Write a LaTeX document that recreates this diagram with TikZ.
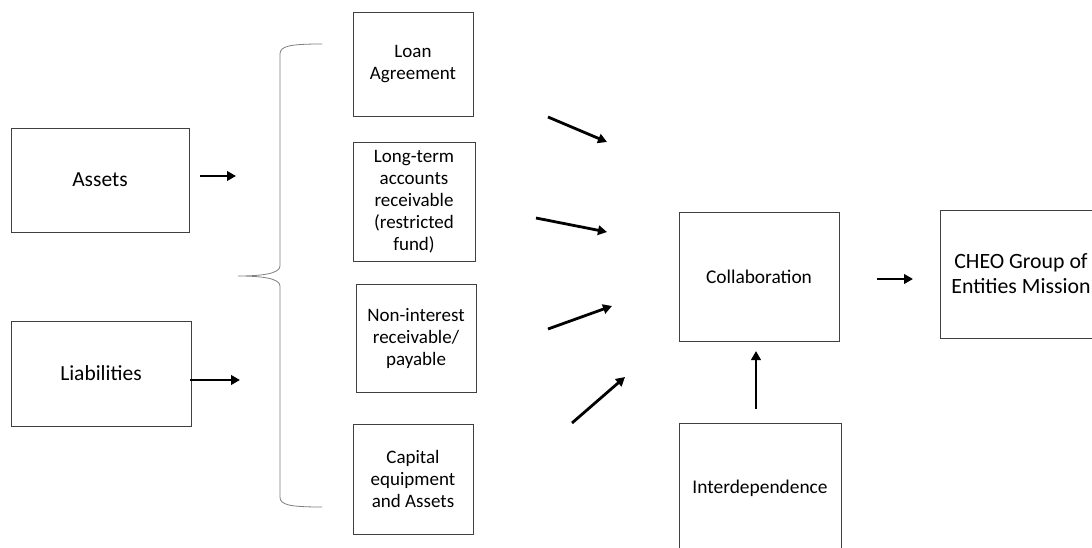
\documentclass[tikz,border=0pt]{standalone}
\usepackage{fontspec}
\setmainfont{Carlito}
\usetikzlibrary{arrows.meta}
\begin{document}
\begin{tikzpicture}[x=1pt,y=-1pt,
  box/.style={draw=black!75,line width=0.9pt,align=center,inner sep=0pt},
  arr/.style={line width=2.8pt,-{Triangle[length=9pt,width=9.5pt]}},
  bf/.style={font=\fontsize{19}{22}\selectfont},
  sf/.style={font=\fontsize{21.5}{25}\selectfont},
  xf/.style={font=\fontsize{19.4}{23}\selectfont}]
\clip (0,0) rectangle (1092,548);
\fill[white] (0,0) rectangle (1092,548);
\node[box,sf,minimum width=178pt,minimum height=104pt] (assets) at (100,180) {Assets};
\node[box,sf,minimum width=180pt,minimum height=105pt] (liab) at (101,373.5) {Liabilities};
\node[box,bf,minimum width=120pt,minimum height=104pt] (loan) at (413,64) {Loan\\Agreement};
\node[box,bf,minimum width=122pt,minimum height=119pt] (long) at (414,201.5) {Long-term\\accounts\\receivable\\(restricted\\fund)};
\node[box,bf,minimum width=120pt,minimum height=108pt] (nonint) at (416,338) {Non-interest\\receivable/\\payable};
\node[box,bf,minimum width=120pt,minimum height=110pt] (capital) at (413,479) {Capital\\equipment\\and Assets};
\node[box,xf,minimum width=160pt,minimum height=129pt] (collab) at (759,276.5) {Collaboration};
\node[box,font=\fontsize{21.8}{25}\selectfont,minimum width=162pt,minimum height=128pt] (cheo) at (1021,274) {CHEO Group of\\Entities Mission};
\node[box,xf,minimum width=162pt,minimum height=130pt] (inter) at (760,488) {Interdependence};
% brace
\draw[black!50,line width=0.8pt] (322,44) .. controls (290,44) and (280,46) .. (280,54)
  -- (280,266) .. controls (280,274) and (260,276) .. (238,276)
  .. controls (260,276) and (280,278) .. (280,286)
  -- (280,497) .. controls (280,505) and (290,507) .. (322,507);
% arrows
\coordinate (a1s) at (200,176); \coordinate (a1e) at (236,176);
\coordinate (a2s) at (190,380); \coordinate (a2e) at (240,380);
\draw[arr] (a1s) -- (a1e);
\draw[arr] (a2s) -- (a2e);
\coordinate (d1s) at (548,117); \coordinate (d1e) at (607,142);
\coordinate (d2s) at (536,218); \coordinate (d2e) at (607,232);
\coordinate (d3s) at (548,329); \coordinate (d3e) at (612,306);
\coordinate (d4s) at (572,423); \coordinate (d4e) at (625,377);
\draw[arr] (d1s) -- (d1e);
\draw[arr] (d2s) -- (d2e);
\draw[arr] (d3s) -- (d3e);
\draw[arr] (d4s) -- (d4e);
\coordinate (c1s) at (877,279); \coordinate (c1e) at (913,279);
\draw[arr] (c1s) -- (c1e);
\coordinate (i1s) at (756,409); \coordinate (i1e) at (756,351);
\draw[arr] (i1s) -- (i1e);
\end{tikzpicture}
\end{document}
